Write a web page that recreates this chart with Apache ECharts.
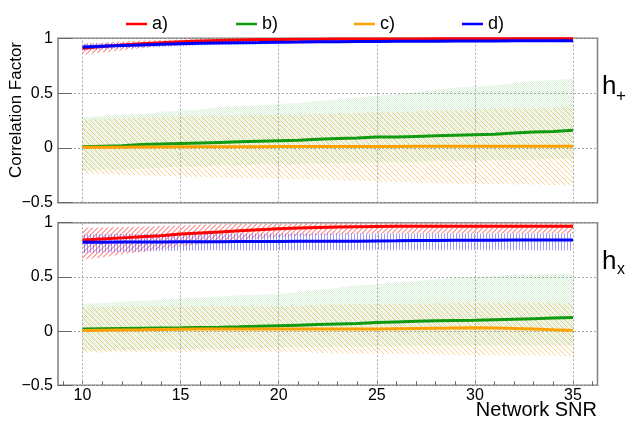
<!DOCTYPE html>
<html>
<head>
<meta charset="utf-8">
<script src="https://cdn.jsdelivr.net/npm/echarts@6/dist/echarts.min.js"></script>
<style>html,body{margin:0;padding:0;background:#fff}#c{width:627px;height:429px}</style>
</head>
<body>
<div id="c"></div>
<script>
// ---------------- data ----------------
const snr = [10,11,12,13,14,15,16,17,18,19,20,21,22,23,24,25,26,27,28,29,30,31,32,33,34,35];
const seriesNames = ['a)','b)','c)','d)'];
const xTickLabels = [10,15,20,25,30,35];
const xMinorTicks = [9,10,11,12,13,14,15,16,17,18,19,20,21,22,23,24,25,26,27,28,29,30,31,32,33,34,35,36];

// h+ panel
const a_hp    = [0.91,0.925,0.94,0.95,0.96,0.968,0.975,0.98,0.985,0.988,0.99,0.991,0.992,0.993,0.993,0.994,0.994,0.994,0.995,0.995,0.995,0.995,0.995,0.995,0.995,0.995];
const a_hp_lo = [0.85,0.87,0.89,0.91,0.925,0.935,0.945,0.955,0.96,0.965,0.97,0.972,0.975,0.977,0.978,0.98,0.98,0.98,0.982,0.982,0.983,0.983,0.984,0.984,0.985,0.985];
const a_hp_hi = [0.95,0.96,0.97,0.98,0.985,0.99,0.995,0.997,0.998,0.999,1,1,1,1,1,1,1,1,1,1,1,1,1,1,1,1];
const b_hp    = [0.01,0.015,0.02,0.03,0.035,0.04,0.045,0.05,0.055,0.06,0.065,0.07,0.08,0.085,0.09,0.1,0.1,0.105,0.11,0.115,0.12,0.125,0.135,0.145,0.15,0.16];
const b_hp_lo = [-0.21,-0.2,-0.2,-0.19,-0.18,-0.17,-0.17,-0.16,-0.16,-0.15,-0.15,-0.15,-0.14,-0.14,-0.14,-0.13,-0.13,-0.13,-0.12,-0.12,-0.12,-0.11,-0.11,-0.11,-0.1,-0.1];
const b_hp_hi = [0.28,0.29,0.3,0.31,0.33,0.34,0.35,0.37,0.38,0.39,0.4,0.41,0.43,0.44,0.46,0.475,0.49,0.51,0.53,0.55,0.56,0.57,0.59,0.61,0.62,0.63];
const c_hp    = [0.005,0.006,0.007,0.008,0.009,0.01,0.01,0.01,0.011,0.011,0.012,0.012,0.012,0.013,0.013,0.013,0.013,0.014,0.014,0.014,0.014,0.015,0.015,0.015,0.015,0.015];
const c_hp_lo = [-0.23,-0.24,-0.245,-0.25,-0.255,-0.26,-0.265,-0.27,-0.275,-0.28,-0.28,-0.285,-0.29,-0.295,-0.3,-0.305,-0.31,-0.315,-0.32,-0.325,-0.33,-0.33,-0.335,-0.335,-0.34,-0.34];
const c_hp_hi = [0.26,0.265,0.27,0.275,0.28,0.285,0.29,0.29,0.295,0.3,0.3,0.305,0.31,0.315,0.32,0.325,0.33,0.335,0.34,0.345,0.35,0.355,0.36,0.36,0.365,0.37];
const d_hp    = [0.92,0.928,0.935,0.94,0.945,0.95,0.955,0.958,0.96,0.962,0.965,0.966,0.968,0.969,0.97,0.971,0.972,0.973,0.974,0.975,0.975,0.976,0.977,0.977,0.978,0.978];
const d_hp_lo = [0.89,0.9,0.91,0.915,0.922,0.928,0.934,0.938,0.941,0.944,0.948,0.95,0.952,0.954,0.956,0.957,0.958,0.96,0.961,0.962,0.962,0.963,0.964,0.964,0.965,0.965];
const d_hp_hi = [0.95,0.955,0.96,0.963,0.966,0.97,0.974,0.976,0.978,0.98,0.982,0.983,0.984,0.985,0.986,0.986,0.987,0.988,0.988,0.989,0.989,0.99,0.99,0.99,0.991,0.991];

// hx panel
const a_hx    = [0.84,0.85,0.86,0.87,0.88,0.895,0.905,0.915,0.925,0.935,0.945,0.95,0.955,0.96,0.963,0.966,0.967,0.967,0.968,0.968,0.968,0.968,0.968,0.968,0.968,0.968];
const a_hx_lo = [0.66,0.68,0.71,0.73,0.755,0.78,0.8,0.82,0.84,0.855,0.87,0.878,0.885,0.89,0.895,0.9,0.9,0.9,0.9,0.9,0.9,0.9,0.9,0.9,0.9,0.9];
const a_hx_hi = [0.95,0.955,0.96,0.965,0.97,0.975,0.98,0.985,0.988,0.99,0.99,0.992,0.994,0.995,0.995,0.995,0.995,0.995,0.995,0.995,0.995,0.995,0.995,0.995,0.995,0.995];
const b_hx    = [0.02,0.022,0.024,0.026,0.028,0.03,0.033,0.036,0.04,0.045,0.05,0.055,0.06,0.065,0.07,0.08,0.085,0.09,0.095,0.098,0.1,0.105,0.11,0.115,0.12,0.125];
const b_hx_lo = [-0.18,-0.178,-0.175,-0.172,-0.17,-0.168,-0.165,-0.162,-0.16,-0.155,-0.15,-0.148,-0.146,-0.144,-0.142,-0.14,-0.14,-0.138,-0.136,-0.135,-0.134,-0.133,-0.132,-0.131,-0.13,-0.13];
const b_hx_hi = [0.25,0.26,0.27,0.28,0.29,0.3,0.31,0.32,0.33,0.335,0.34,0.36,0.38,0.4,0.42,0.43,0.45,0.46,0.48,0.49,0.5,0.51,0.52,0.52,0.53,0.53];
const c_hx    = [0.005,0.008,0.01,0.012,0.015,0.018,0.02,0.02,0.02,0.02,0.02,0.02,0.02,0.02,0.02,0.02,0.022,0.024,0.026,0.028,0.03,0.028,0.025,0.02,0.012,0.005];
const c_hx_lo = [-0.2,-0.198,-0.196,-0.194,-0.192,-0.19,-0.19,-0.19,-0.19,-0.19,-0.19,-0.195,-0.2,-0.205,-0.21,-0.21,-0.212,-0.214,-0.216,-0.218,-0.22,-0.222,-0.224,-0.226,-0.228,-0.23];
const c_hx_hi = [0.22,0.222,0.224,0.226,0.228,0.23,0.23,0.23,0.23,0.23,0.23,0.235,0.24,0.245,0.25,0.25,0.252,0.254,0.256,0.258,0.26,0.26,0.26,0.26,0.26,0.26];
const d_hx    = [0.82,0.82,0.822,0.823,0.823,0.824,0.825,0.825,0.826,0.826,0.827,0.828,0.829,0.83,0.83,0.832,0.833,0.835,0.836,0.837,0.838,0.839,0.84,0.84,0.84,0.84];
const d_hx_lo = [0.72,0.725,0.73,0.735,0.74,0.742,0.745,0.745,0.746,0.746,0.747,0.748,0.748,0.748,0.749,0.75,0.75,0.75,0.75,0.75,0.75,0.75,0.75,0.745,0.745,0.745];
const d_hx_hi = [0.89,0.893,0.895,0.896,0.897,0.898,0.899,0.9,0.9,0.9,0.9,0.9,0.9,0.9,0.9,0.9,0.9,0.9,0.9,0.9,0.9,0.9,0.9,0.9,0.9,0.9];

// ---------------- styles ----------------
const colors = {'a)':'#ff0000','b)':'#109a10','c)':'#ffa200','d)':'#0000ff'};

function makePattern(kind){
  const cv = document.createElement('canvas');
  const ctx = cv.getContext('2d');
  if (kind === 'red'){
    cv.width = 5; cv.height = 5;
    ctx.fillStyle = 'rgba(255,80,80,0.5)';
    for (let i=0;i<5;i++){ ctx.fillRect(i, 4-i, 1, 1); ctx.fillRect(i, (5-i)%5, 1, 1); }
  } else if (kind === 'orange'){
    cv.width = 5; cv.height = 5;
    ctx.fillStyle = 'rgba(255,170,40,0.55)';
    for (let i=0;i<5;i++) ctx.fillRect(i, i, 1, 1);
  } else if (kind === 'blue'){
    cv.width = 3; cv.height = 3;
    ctx.fillStyle = 'rgba(90,90,255,0.6)';
    ctx.fillRect(0,0,1,3);
  } else {
    cv.width = 2; cv.height = 2;
    ctx.fillStyle = 'rgba(120,205,120,0.32)';
    ctx.fillRect(0,0,1,1); ctx.fillRect(1,1,1,1);
  }
  return cv;
}
const patCanvas = {'a)':makePattern('red'),'b)':makePattern('green'),'c)':makePattern('orange'),'d)':makePattern('blue')};

function band(name, lo, hi, gi){
  return {
    type:'custom', name: name + ' band', xAxisIndex: gi, yAxisIndex: gi, silent:true, z:1,
    data:[[snr[0], lo[0]]],
    renderItem: function(params, api){
      const pts = [];
      for (let i=0;i<snr.length;i++) pts.push(api.coord([snr[i], hi[i]]));
      for (let i=snr.length-1;i>=0;i--) pts.push(api.coord([snr[i], lo[i]]));
      return {type:'polygon', shape:{points:pts}, style:{fill: {image: patCanvas[name], repeat:'repeat'}, stroke:null}};
    }
  };
}
function line(name, vals, gi, extra){
  const s = {
    type:'line', name:name, xAxisIndex:gi, yAxisIndex:gi, symbol:'none', z:5,
    data: snr.map((x,i)=>[x, vals[i]]),
    lineStyle:{color:colors[name], width:3}, itemStyle:{color:colors[name]},
    animation:false
  };
  return Object.assign(s, extra||{});
}
const vGrid = {
  silent:true, symbol:['none','none'], label:{show:false},
  lineStyle:{color:'#a8a8a8', type:[2,2], width:1},
  data: xTickLabels.map(v=>({xAxis:v})), animation:false
};

const FONT = 'Liberation Sans';
function yAxis(gi){
  return {
    gridIndex:gi, type:'value', min:-0.5, max:1, interval:0.5,
    axisLine:{show:false, onZero:false},
    axisTick:{show:true, inside:true, length:14, lineStyle:{color:'#666'}},
    axisLabel:{fontFamily:FONT, fontSize:16, color:'#000', margin:5,
      formatter: v => v < 0 ? '\u2212' + Math.abs(v) : String(v)},
    splitLine:{show:true, lineStyle:{color:'#a8a8a8', type:[2,2], width:1}}
  };
}
const legendLefts = [121, 231, 349, 457];
const legends = seriesNames.map((n,i)=>({
  data:[n], left:legendLefts[i], top:10, itemGap:0, itemWidth:21, itemHeight:12,
  textStyle:{fontFamily:FONT, fontSize:18, color:'#000'},
  icon:'path://M0,5 L20,5 L20,7.4 L0,7.4 Z'
}));

const option = {
  animation:false,
  backgroundColor:'#fff',
  legend: legends,
  grid:[
    {left:58, right:29.5, top:38.3, height:164.4, show:true, borderColor:'#808080', borderWidth:1.5, backgroundColor:'transparent'},
    {left:58, right:29.5, top:222.7, height:162.6, show:true, borderColor:'#808080', borderWidth:1.5, backgroundColor:'transparent'}
  ],
  xAxis:[
    {gridIndex:0, type:'value', min:8.75, max:36.25, axisLine:{show:false, onZero:false}, axisTick:{show:false}, axisLabel:{show:false}, splitLine:{show:false}},
    {gridIndex:1, type:'value', min:8.75, max:36.25, position:'bottom', axisLine:{show:false, onZero:false}, splitLine:{show:false},
     axisTick:{show:true, inside:true, length:4, customValues:xMinorTicks, lineStyle:{color:'#666'}},
     axisLabel:{fontFamily:FONT, fontSize:16, color:'#000', margin:2, customValues:xTickLabels}}
  ],
  yAxis:[yAxis(0), yAxis(1)],
  graphic:[
    {type:'text', x:16, y:110, rotation:Math.PI/2, style:{text:'Correlation Factor', font:'17px "Liberation Sans"', fill:'#000', align:'center', verticalAlign:'middle'}},
    {type:'text', x:602, y:100, style:{text:'h', font:'26px "Liberation Sans"', fill:'#000', align:'left', verticalAlign:'bottom'}},
    {type:'text', x:616, y:96, style:{text:'+', font:'17px "Liberation Sans"', fill:'#000', align:'left', verticalAlign:'middle'}},
    {type:'text', x:602, y:275, style:{text:'h', font:'26px "Liberation Sans"', fill:'#000', align:'left', verticalAlign:'bottom'}},
    {type:'text', x:617, y:270, style:{text:'x', font:'16px "Liberation Sans"', fill:'#000', align:'left', verticalAlign:'middle'}},
    {type:'text', x:597, y:420, style:{text:'Network SNR', font:'20px "Liberation Sans"', fill:'#000', align:'right', verticalAlign:'bottom'}}
  ],
  series:[
    band('b)', b_hp_lo, b_hp_hi, 0),
    band('c)', c_hp_lo, c_hp_hi, 0),
    band('a)', a_hp_lo, a_hp_hi, 0),
    band('d)', d_hp_lo, d_hp_hi, 0),
    band('b)', b_hx_lo, b_hx_hi, 1),
    band('c)', c_hx_lo, c_hx_hi, 1),
    band('a)', a_hx_lo, a_hx_hi, 1),
    band('d)', d_hx_lo, d_hx_hi, 1),
    line('a)', a_hp, 0, {markLine: vGrid}),
    line('b)', b_hp, 0),
    line('c)', c_hp, 0),
    line('d)', d_hp, 0),
    line('a)', a_hx, 1, {markLine: vGrid}),
    line('b)', b_hx, 1),
    line('c)', c_hx, 1),
    line('d)', d_hx, 1)
  ]
};
const chart = echarts.init(document.getElementById('c'), null, {renderer:'canvas'});
chart.setOption(option);
</script>
</body>
</html>
